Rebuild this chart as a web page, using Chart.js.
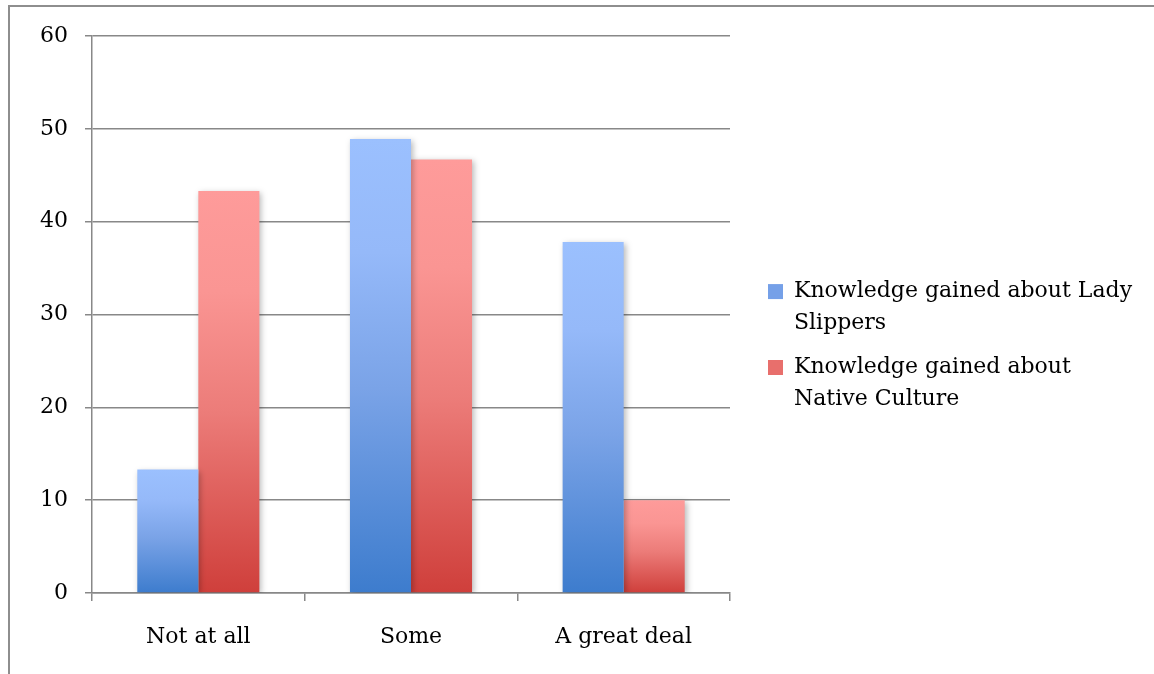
<!DOCTYPE html>
<html>
<head>
<meta charset="utf-8">
<script src="https://cdn.jsdelivr.net/npm/chart.js@4"></script>
<style>
  html, body { margin: 0; padding: 0; background: #fff; overflow: hidden; }
  #wrap { position: relative; width: 1154px; height: 674px; overflow: hidden; }
  #frame {
    position: absolute; left: 8px; top: 5px; right: -20px; bottom: -20px;
    border: 2px solid #8e8e8e; pointer-events: none;
  }
</style>
</head>
<body>
<div id="wrap">
  <canvas id="conocimiento" width="1154" height="674"></canvas>
  <div id="frame"></div>
</div>
<script>
const categories = ["Not at all", "Some", "A great deal"];
const ladySlippers = [13.3, 48.9, 37.8];
const nativeCulture = [43.3, 46.7, 10.0];
const seriesNames = [
  "Knowledge gained about Lady Slippers",
  "Knowledge gained about Native Culture",
];
const legendLines = [
  ["Knowledge gained about Lady", "Slippers"],
  ["Knowledge gained about", "Native Culture"],
];
const yMin = 0;
const yMax = 60;
const yStep = 10;

const gris = "#888888";
const fuente = { family: "DejaVu Serif", size: 22 };

// vertical gradient per bar, light at the top and dark at the base
function barFill(stops, fallback) {
  return (ctx) => {
    const chart = ctx.chart;
    if (!chart.chartArea || ctx.type !== "data") return fallback;
    const y = chart.scales.y;
    const top = y.getPixelForValue(ctx.raw);
    const base = y.getPixelForValue(0);
    const g = chart.ctx.createLinearGradient(0, top, 0, base);
    stops.forEach(([p, c]) => g.addColorStop(p, c));
    return g;
  };
}

const blueStops = [[0, "#9bc0fe"], [0.25, "#95b9f9"], [0.55, "#7aa3e7"], [1, "#3d7ccd"]];
const redStops = [[0, "#fe9b9a"], [0.25, "#fa9593"], [0.55, "#ec7c79"], [1, "#cf3f3b"]];
const legendColors = ["#75a0e8", "#e86f6c"];

// soft drop shadow behind the bars
const sombra = {
  id: "sombra",
  beforeDatasetsDraw(chart) {
    const c = chart.ctx;
    c.save();
    c.shadowColor = "rgba(0,0,0,0.28)";
    c.shadowBlur = 6;
    c.shadowOffsetX = 2;
    c.shadowOffsetY = 2;
  },
  afterDatasetsDraw(chart) {
    chart.ctx.restore();
  },
};

// push the legend a bit away from the plot
const legendGap = {
  id: "legendGap",
  afterLayout(chart) {
    const l = chart.legend;
    l.left += 25;
    l.right += 25;
    l.top -= 5;
    l.bottom -= 5;
  },
};

const grafica = document.getElementById("conocimiento").getContext("2d");

new Chart(grafica, {
  type: "bar",
  data: {
    labels: categories,
    datasets: [
      {
        label: seriesNames[0],
        data: ladySlippers,
        backgroundColor: barFill(blueStops, legendColors[0]),
      },
      {
        label: seriesNames[1],
        data: nativeCulture,
        backgroundColor: barFill(redStops, legendColors[1]),
      },
    ],
  },
  options: {
    responsive: false,
    animation: false,
    devicePixelRatio: 1,
    categoryPercentage: 0.574,
    barPercentage: 1.0,
    layout: { padding: { top: 36, right: 44, bottom: 0, left: 0 } },
    scales: {
      x: {
        offset: true,
        grid: { drawOnChartArea: false, color: gris, lineWidth: 1.5, tickLength: 8, offset: true },
        border: { color: gris, width: 1.5 },
        ticks: { color: "#000", font: fuente, padding: 23 },
        afterFit: (s) => { s.height = 81; },
      },
      y: {
        min: yMin,
        max: yMax,
        ticks: { stepSize: yStep, color: "#000", font: fuente, padding: 17 },
        grid: { color: gris, lineWidth: 1.5, tickLength: 7 },
        border: { color: gris, width: 1.5 },
        afterFit: (s) => { s.width = 92; },
      },
    },
    plugins: {
      tooltip: { enabled: false },
      legend: {
        position: "right",
        maxWidth: 380,
        labels: {
          boxWidth: 15,
          boxHeight: 15,
          color: "#000",
          padding: 13,
          font: { family: "DejaVu Serif", size: 22, lineHeight: 1.43 },
          generateLabels: (chart) =>
            Chart.defaults.plugins.legend.labels.generateLabels(chart).map((it, i) => ({
              ...it,
              text: legendLines[i],
              fillStyle: legendColors[i],
              strokeStyle: legendColors[i],
              lineWidth: 0,
            })),
        },
      },
    },
  },
  plugins: [sombra, legendGap],
});
</script>
</body>
</html>
